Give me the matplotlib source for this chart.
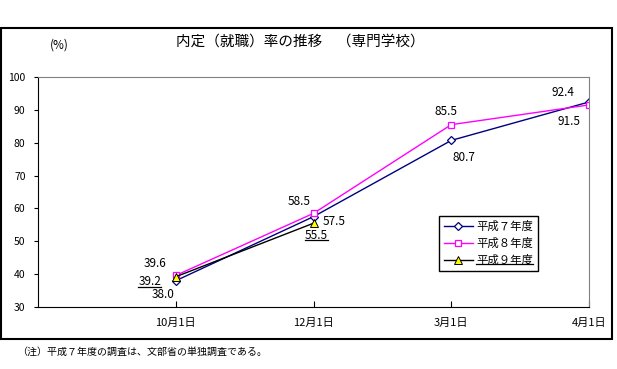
import matplotlib
matplotlib.use("Agg")
import matplotlib.pyplot as plt
from matplotlib.lines import Line2D
from matplotlib.patches import Rectangle

plt.rcParams['font.family'] = ['Noto Sans CJK JP', 'DejaVu Sans']

categories = ['10月1日', '12月1日', '3月1日', '4月1日']
h7 = [38.0, 57.5, 80.7, 92.4]
h8 = [39.6, 58.5, 85.5, 91.5]
h9 = [39.2, 55.5]
names = ['平成７年度', '平成８年度', '平成９年度']

title = '内定（就職）率の推移　（専門学校）'
note = '（注）平成７年度の調査は、文部省の単独調査である。'

fig = plt.figure(figsize=(6.17, 3.69), dpi=100)
ax = fig.add_axes([38 / 617, 1 - 307 / 369, 551 / 617, 230 / 369])

# outer frame round the whole chart
fig.patches.append(Rectangle((0.002, 1 - 339 / 369), 611 / 617, 311 / 369,
                             transform=fig.transFigure, fill=False,
                             edgecolor='black', linewidth=1.5))

xs = list(range(1, len(categories) + 1))
l7, = ax.plot(xs[:len(h7)], h7, color='#000080', lw=1, marker='D', ms=4.5,
              mfc='white', mec='#000080', mew=0.9)
l8, = ax.plot(xs[:len(h8)], h8, color='#ff00ff', lw=1, marker='s', ms=5,
              mfc='white', mec='#ff00ff', mew=0.9)
l9, = ax.plot(xs[:len(h9)], h9, color='black', lw=1, marker='^', ms=5.5,
              mfc='yellow', mec='black', mew=0.7)

ax.set_xlim(0, 4)
ax.set_ylim(30, 100)
ax.set_yticks(range(30, 101, 10))
ax.set_xticks(xs)
ax.set_xticklabels(categories, fontsize=8)
ax.tick_params(axis='x', direction='in', length=4, pad=8, width=0.8)
ax.tick_params(axis='y', direction='out', length=3, pad=6, labelsize=7.5,
               width=0.8)
for s in ['top', 'right']:
    ax.spines[s].set_color('#808080')
for s in ['left', 'bottom']:
    ax.spines[s].set_color('black')

# value labels, offsets in pixels from the point
px = 0.72
def put(x, y, dx, dy):
    return ax.annotate(f'{y:.1f}', (x, y), xytext=(dx * px, dy * px),
                       textcoords='offset points', ha='center', va='center',
                       fontsize=8.5)

off7 = [(-13, -14), (21, -5), (13, -17), (-26, 9)]
off8 = [(-21, 12), (-14, 12), (-5, 13), (-20, -17)]
off9 = [(-26, -5), (3, -12)]
for i, v in enumerate(h7):
    put(xs[i], v, *off7[i])
for i, v in enumerate(h8):
    put(xs[i], v, *off8[i])
under = [put(xs[i], v, *off9[i]) for i, v in enumerate(h9)]

leg = ax.legend([l7, l8, l9], names, loc='upper left',
                bbox_to_anchor=(0.728, 0.397), fontsize=8.2, frameon=True,
                fancybox=False, edgecolor='black', framealpha=1,
                handlelength=2.5, handletextpad=0.3, labelspacing=0.5,
                borderpad=0.45, borderaxespad=0)
leg.get_frame().set_linewidth(1.0)

fig.text(300 / 617, 1 - 42 / 369, title, ha='center', va='center',
         fontsize=10.5)
fig.text(59 / 617, 1 - 45 / 369, '(%)', ha='center', va='center', fontsize=8.5)
fig.text(17 / 617, 1 - 352 / 369, note, ha='left', va='center', fontsize=7.2)

# underline the 平成９年度 labels and its legend entry
fig.canvas.draw()
r = fig.canvas.get_renderer()
inv = fig.transFigure.inverted()
for t in under + [leg.get_texts()[2]]:
    bb = t.get_window_extent(r).transformed(inv)
    fig.lines.append(Line2D([bb.x0, bb.x1], [bb.y0 + 0.004, bb.y0 + 0.004],
                            transform=fig.transFigure, color='black', lw=0.9))

fig.savefig('out.png', dpi=100)
